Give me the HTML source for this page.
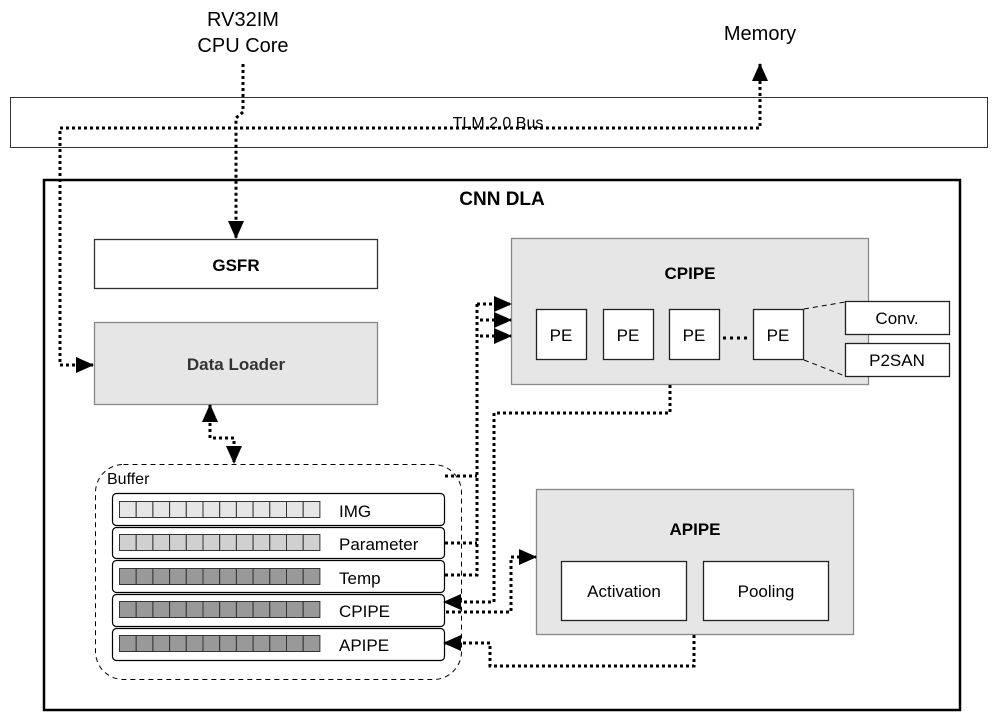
<!DOCTYPE html>
<html><head><meta charset="utf-8"><style>
html,body{margin:0;padding:0;background:#fff;}
svg{display:block;}
text{font-family:"Liberation Sans",Arial,sans-serif;}
</style></head><body>
<svg width="998" height="726" viewBox="0 0 998 726" xmlns="http://www.w3.org/2000/svg">
<defs>
<marker id="ab" markerWidth="18" markerHeight="16" refX="17" refY="8" orient="auto-start-reverse" markerUnits="userSpaceOnUse" viewBox="0 0 18 16">
<path d="M0,0 L18,8 L0,16 z" fill="#000"/></marker>
</defs>
<text x="243" y="26" font-size="20" text-anchor="middle">RV32IM</text>
<text x="243" y="52" font-size="20" text-anchor="middle">CPU Core</text>
<text x="760" y="40" font-size="20" text-anchor="middle">Memory</text>
<rect x="10.5" y="97.5" width="977" height="50" fill="#fff" stroke="#333" stroke-width="1"/>
<text x="498" y="128" font-size="16" text-anchor="middle">TLM 2.0 Bus</text>
<rect x="44" y="180" width="916" height="530" fill="none" stroke="#000" stroke-width="2.5"/>
<text x="502" y="205" font-size="19" font-weight="bold" text-anchor="middle">CNN DLA</text>
<rect x="94.5" y="239.5" width="283" height="49" fill="#fff" stroke="#333" stroke-width="1.3"/>
<text x="236" y="271" font-size="17" font-weight="bold" text-anchor="middle">GSFR</text>
<rect x="94.5" y="322.5" width="283" height="82" fill="#e6e6e6" stroke="#888" stroke-width="1.3"/>
<text x="236" y="370" font-size="17" font-weight="bold" fill="#333" text-anchor="middle">Data Loader</text>
<rect x="511.5" y="238.5" width="357" height="146" fill="#e6e6e6" stroke="#888" stroke-width="1.3"/>
<text x="690" y="279" font-size="17" font-weight="bold" text-anchor="middle">CPIPE</text>
<g fill="#fff" stroke="#222" stroke-width="1.3">
<rect x="536.5" y="309.5" width="50" height="50"/><rect x="603.5" y="309.5" width="50" height="50"/>
<rect x="669.5" y="309.5" width="50" height="50"/><rect x="753.5" y="309.5" width="50" height="50"/>
<rect x="845.5" y="301.5" width="104" height="33"/><rect x="845.5" y="343.5" width="104" height="33"/>
</g>
<g font-size="17" text-anchor="middle">
<text x="561" y="341">PE</text><text x="628" y="341">PE</text><text x="694" y="341">PE</text><text x="778" y="341">PE</text>
<text x="897" y="324">Conv.</text><text x="897" y="366">P2SAN</text>
</g>
<line x1="723" y1="338" x2="750" y2="338" stroke="#000" stroke-width="3" stroke-dasharray="3,4"/>
<g stroke="#000" stroke-width="1" stroke-dasharray="5,4">
<line x1="804" y1="309" x2="845" y2="302"/><line x1="804" y1="360" x2="845" y2="376"/>
</g>
<rect x="536.5" y="489.5" width="317" height="145" fill="#e6e6e6" stroke="#888" stroke-width="1.3"/>
<text x="695" y="535" font-size="17" font-weight="bold" text-anchor="middle">APIPE</text>
<rect x="561.5" y="561.5" width="125" height="59" fill="#fff" stroke="#222" stroke-width="1.3"/>
<rect x="703.5" y="561.5" width="125" height="59" fill="#fff" stroke="#222" stroke-width="1.3"/>
<text x="624" y="597" font-size="17" text-anchor="middle">Activation</text>
<text x="766" y="597" font-size="17" text-anchor="middle">Pooling</text>
<rect x="95.5" y="464.5" width="366" height="215" rx="28" fill="none" stroke="#000" stroke-width="1" stroke-dasharray="5,4"/>
<text x="107" y="484" font-size="16">Buffer</text>
<g>
<rect x="112.5" y="493.5" width="332" height="32" rx="4" fill="#fff" stroke="#000" stroke-width="1.2"/>
<rect x="112.5" y="527.5" width="332" height="31" rx="4" fill="#fff" stroke="#000" stroke-width="1.2"/>
<rect x="112.5" y="560.5" width="332" height="32" rx="4" fill="#fff" stroke="#000" stroke-width="1.2"/>
<rect x="112.5" y="594.5" width="332" height="32" rx="4" fill="#fff" stroke="#000" stroke-width="1.2"/>
<rect x="112.5" y="628.5" width="332" height="32" rx="4" fill="#fff" stroke="#000" stroke-width="1.2"/>
</g>
<g stroke="#333" stroke-width="1">
<g fill="#e6e6e6"><rect x="119.5" y="501.5" width="16.7" height="16"/><rect x="136.2" y="501.5" width="16.7" height="16"/><rect x="152.9" y="501.5" width="16.7" height="16"/><rect x="169.6" y="501.5" width="16.7" height="16"/><rect x="186.3" y="501.5" width="16.7" height="16"/><rect x="203" y="501.5" width="16.7" height="16"/><rect x="219.7" y="501.5" width="16.7" height="16"/><rect x="236.4" y="501.5" width="16.7" height="16"/><rect x="253.1" y="501.5" width="16.7" height="16"/><rect x="269.8" y="501.5" width="16.7" height="16"/><rect x="286.5" y="501.5" width="16.7" height="16"/><rect x="303.2" y="501.5" width="16.7" height="16"/></g>
<g fill="#d0d0d0"><rect x="119.5" y="534.5" width="16.7" height="16"/><rect x="136.2" y="534.5" width="16.7" height="16"/><rect x="152.9" y="534.5" width="16.7" height="16"/><rect x="169.6" y="534.5" width="16.7" height="16"/><rect x="186.3" y="534.5" width="16.7" height="16"/><rect x="203" y="534.5" width="16.7" height="16"/><rect x="219.7" y="534.5" width="16.7" height="16"/><rect x="236.4" y="534.5" width="16.7" height="16"/><rect x="253.1" y="534.5" width="16.7" height="16"/><rect x="269.8" y="534.5" width="16.7" height="16"/><rect x="286.5" y="534.5" width="16.7" height="16"/><rect x="303.2" y="534.5" width="16.7" height="16"/></g>
<g fill="#999"><rect x="119.5" y="568.5" width="16.7" height="16"/><rect x="136.2" y="568.5" width="16.7" height="16"/><rect x="152.9" y="568.5" width="16.7" height="16"/><rect x="169.6" y="568.5" width="16.7" height="16"/><rect x="186.3" y="568.5" width="16.7" height="16"/><rect x="203" y="568.5" width="16.7" height="16"/><rect x="219.7" y="568.5" width="16.7" height="16"/><rect x="236.4" y="568.5" width="16.7" height="16"/><rect x="253.1" y="568.5" width="16.7" height="16"/><rect x="269.8" y="568.5" width="16.7" height="16"/><rect x="286.5" y="568.5" width="16.7" height="16"/><rect x="303.2" y="568.5" width="16.7" height="16"/></g>
<g fill="#999"><rect x="119.5" y="601.5" width="16.7" height="16"/><rect x="136.2" y="601.5" width="16.7" height="16"/><rect x="152.9" y="601.5" width="16.7" height="16"/><rect x="169.6" y="601.5" width="16.7" height="16"/><rect x="186.3" y="601.5" width="16.7" height="16"/><rect x="203" y="601.5" width="16.7" height="16"/><rect x="219.7" y="601.5" width="16.7" height="16"/><rect x="236.4" y="601.5" width="16.7" height="16"/><rect x="253.1" y="601.5" width="16.7" height="16"/><rect x="269.8" y="601.5" width="16.7" height="16"/><rect x="286.5" y="601.5" width="16.7" height="16"/><rect x="303.2" y="601.5" width="16.7" height="16"/></g>
<g fill="#999"><rect x="119.5" y="635.5" width="16.7" height="16"/><rect x="136.2" y="635.5" width="16.7" height="16"/><rect x="152.9" y="635.5" width="16.7" height="16"/><rect x="169.6" y="635.5" width="16.7" height="16"/><rect x="186.3" y="635.5" width="16.7" height="16"/><rect x="203" y="635.5" width="16.7" height="16"/><rect x="219.7" y="635.5" width="16.7" height="16"/><rect x="236.4" y="635.5" width="16.7" height="16"/><rect x="253.1" y="635.5" width="16.7" height="16"/><rect x="269.8" y="635.5" width="16.7" height="16"/><rect x="286.5" y="635.5" width="16.7" height="16"/><rect x="303.2" y="635.5" width="16.7" height="16"/></g>
</g>
<g font-size="17">
<text x="339" y="517">IMG</text><text x="339" y="550">Parameter</text><text x="339" y="584">Temp</text><text x="339" y="617">CPIPE</text><text x="339" y="651">APIPE</text>
</g>
<g fill="none" stroke="#000" stroke-width="3" stroke-dasharray="3,3">
<path d="M243,64 V112 L236,118 V238" marker-end="url(#ab)"/>
<path d="M93,365 H60 V128 H760 V64" marker-start="url(#ab)" marker-end="url(#ab)"/>
<path d="M210,405 V438 H234 V463" marker-start="url(#ab)" marker-end="url(#ab)"/>
<path d="M445,476 H477 M445,543 H477 M445,575 H477 V304"/>
<path d="M477,304 H511" marker-end="url(#ab)"/>
<path d="M480,320 H511" marker-end="url(#ab)"/>
<path d="M480,336 H511" marker-end="url(#ab)"/>
<path d="M670,385 V413 H494 V602 H444" marker-end="url(#ab)"/>
<path d="M446,612 H511 V557 H536" marker-end="url(#ab)"/>
<path d="M694,635 V666 H490 V643 H444" marker-end="url(#ab)"/>
</g>
</svg>
</body></html>
